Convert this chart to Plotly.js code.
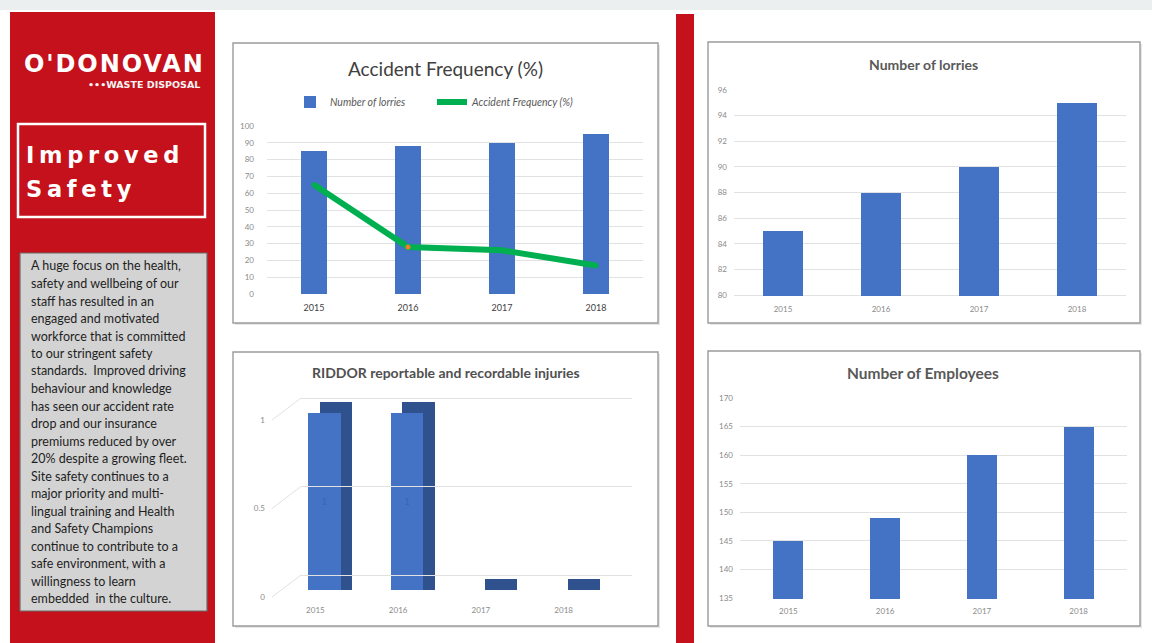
<!DOCTYPE html>
<html><head><meta charset="utf-8">
<script src="https://cdn.plot.ly/plotly-3.0.1.min.js"></script>
<style>html,body{margin:0;padding:0;background:#fff;overflow:hidden}#chart{width:1152px;height:643px}</style>
</head><body><div id="chart"></div>
<script>
// ---------- DATA ----------
const years = ['2015', '2016', '2017', '2018'];
const lorries = [85, 88, 90, 95];
const accidentFrequency = [65, 28, 26, 17];
const riddorInjuries = [1, 1, 0, 0];
const employees = [145, 149, 160, 165];

const accidentTicks = [0, 10, 20, 30, 40, 50, 60, 70, 80, 90, 100];
const lorryTicks = [80, 82, 84, 86, 88, 90, 92, 94, 96];
const riddorTicks = [0, 0.5, 1];
const employeeTicks = [135, 140, 145, 150, 155, 160, 165, 170];

const titles = {
  accident: 'Accident Frequency (%)',
  lorries: 'Number of lorries',
  riddor: 'RIDDOR reportable and recordable injuries',
  employees: 'Number of Employees'
};
const seriesNames = ['Number of lorries', 'Accident Frequency (%)'];
const logoName = "O'DONOVAN";
const logoSub = '\u2022\u2022\u2022WASTE DISPOSAL';
const headline = ['Improved', 'Safety'];
const paragraphLines = [
  'A huge focus on the health,',
  'safety and wellbeing of our',
  'staff has resulted in an',
  'engaged and motivated',
  'workforce that is committed',
  'to our stringent safety',
  'standards.  Improved driving',
  'behaviour and knowledge',
  'has seen our accident rate',
  'drop and our insurance',
  'premiums reduced by over',
  '20% despite a growing fleet.',
  'Site safety continues to a',
  'major priority and multi-',
  'lingual training and Health',
  'and Safety Champions',
  'continue to contribute to a',
  'safe environment, with a',
  'willingness to learn',
  'embedded  in the culture.'
];

// ---------- LAYOUT HELPERS ----------
const W = 1152, H = 643;
const px = p => p / W;
const py = p => 1 - p / H;
const hdom = (a, b) => [px(a), px(b)];
const vdom = (top, bottom) => [py(bottom), py(top)];
// vertical axis placement: value vmax at pixel 'top', vmin at pixel 'bottom', padded so edge gridlines show
function vPlace(top, bottom, vmin, vmax, padTop, padBottom) {
  const k = (bottom - top) / (vmax - vmin);
  return {domain: vdom(top - padTop, bottom + padBottom), range: [vmin - padBottom / k, vmax + padTop / k]};
}

const RED = '#c4111b';
const BLUE = '#4472c4';
const DARKBLUE = '#2f528f';
const GREEN = '#00b050';
const FONT = 'Lato, "Open Sans", sans-serif';
const LOGOFONT = '"DejaVu Sans", sans-serif';
const depth3d = 0.065;

const catAxis = (domain, anchor, size, color, standoff) => ({
  type: 'category', domain: domain, anchor: anchor, range: [-0.5, years.length - 0.5],
  showgrid: false, zeroline: false, showline: false, ticks: '', fixedrange: true,
  tickfont: {family: FONT, size: size, color: color}, ticklabelstandoff: standoff
});
const valAxis = (place, anchor, tickvals, extra) => Object.assign({
  domain: place.domain, anchor: anchor, range: place.range, tickvals: tickvals, ticktext: tickvals.map(String),
  showgrid: true, gridcolor: '#e2e2e2', gridwidth: 1, zeroline: false, showline: false, ticks: '',
  fixedrange: true, tickfont: {family: FONT, size: 8, color: '#8a8a8a'}, ticklabelstandoff: 8
}, extra || {});

// ---------- TRACES ----------
const traces = [
  // Chart 1: Accident Frequency
  {type: 'bar', x: years, y: lorries, name: seriesNames[0], xaxis: 'x', yaxis: 'y',
   marker: {color: BLUE}, width: 0.27, legendrank: 1},
  {type: 'scatter', mode: 'lines+markers', x: years, y: accidentFrequency, name: seriesNames[1],
   xaxis: 'x', yaxis: 'y', line: {color: GREEN, width: 6},
   marker: {size: 5, color: [GREEN, '#ed7d31', GREEN, GREEN]}, legendrank: 2},
  // Chart 2: Number of lorries
  {type: 'bar', x: years, y: lorries, name: titles.lorries, xaxis: 'x2', yaxis: 'y2',
   marker: {color: BLUE}, width: 0.41, showlegend: false},
  // Chart 3: RIDDOR (pseudo 3D: dark depth block behind the front face)
  {type: 'bar', x: years, y: riddorInjuries.map(v => v + depth3d), xaxis: 'x3', yaxis: 'y3',
   marker: {color: DARKBLUE}, width: 0.39, offset: 0.05, showlegend: false, hoverinfo: 'skip'},
  {type: 'bar', x: years, y: riddorInjuries, name: titles.riddor, xaxis: 'x3', yaxis: 'y3',
   marker: {color: BLUE}, width: 0.39, offset: -0.085, showlegend: false,
   text: riddorInjuries.map(String), textposition: 'inside', insidetextanchor: 'middle',
   textfont: {family: FONT, size: 9, color: '#3a64b4'}},
  // Chart 4: Employees
  {type: 'bar', x: years, y: employees, name: titles.employees, xaxis: 'x4', yaxis: 'y4',
   marker: {color: BLUE}, width: 0.31, showlegend: false}
];

// ---------- SHAPES ----------
const shapes = [
  {type: 'rect', xref: 'paper', yref: 'paper', x0: 0, x1: 1, y0: py(10), y1: 1, fillcolor: '#ebefef', line: {width: 0}, layer: 'below'},
  {type: 'rect', xref: 'paper', yref: 'paper', x0: px(10), x1: px(215), y0: 0, y1: py(12), fillcolor: RED, line: {width: 0}, layer: 'below'},
  {type: 'rect', xref: 'paper', yref: 'paper', x0: px(676), x1: px(694), y0: 0, y1: py(14), fillcolor: RED, line: {width: 0}, layer: 'below'},
  {type: 'rect', xref: 'paper', yref: 'paper', x0: px(18), x1: px(205), y0: py(217), y1: py(124), fillcolor: 'rgba(0,0,0,0)', line: {color: '#ffffff', width: 2.5}, layer: 'below'},
  {type: 'rect', xref: 'paper', yref: 'paper', x0: px(20), x1: px(207), y0: py(611), y1: py(253), fillcolor: '#d3d3d3', line: {color: '#6b6b6b', width: 1.2}, layer: 'below'}
];
[[233, 658, 43, 323], [708, 1140, 42, 323], [233, 658, 352, 626], [708, 1140, 351, 626]].forEach(b => {
  shapes.push({type: 'rect', xref: 'paper', yref: 'paper', x0: px(b[0] + 2), x1: px(b[1] + 2), y0: py(b[3] + 2), y1: py(b[2] + 2),
    fillcolor: '#e6e6e6', line: {width: 0}, layer: 'below'});
  shapes.push({type: 'rect', xref: 'paper', yref: 'paper', x0: px(b[0]), x1: px(b[1]), y0: py(b[3]), y1: py(b[2]),
    fillcolor: '#ffffff', line: {color: '#9b9b9b', width: 1.4}, layer: 'below'});
});
// RIDDOR 3D: back-wall axis (y5); connectors run from each tick label up to its wall gridline
const wallDrop = 22 / 177;
riddorTicks.forEach(v => {
  shapes.push({type: 'line', xref: 'paper', yref: 'y5', x0: px(272), x1: px(301), y0: v - wallDrop, y1: v,
    line: {color: '#e2e2e2', width: 1}});
});

// ---------- ANNOTATIONS ----------
const ann = [];
const addText = (text, x, y, opts) => ann.push(Object.assign({
  text: text, xref: 'paper', yref: 'paper', x: px(x), y: py(y), showarrow: false,
  xanchor: 'center', yanchor: 'middle'
}, opts));
addText(logoName, 22, 64, {xanchor: 'left', font: {family: LOGOFONT, size: 24, weight: 'bold', color: '#ffffff'}});
addText(logoSub, 202, 84, {xanchor: 'right', font: {family: LOGOFONT, size: 9.5, weight: 'bold', color: '#f3f3f3'}});
addText(headline[0], 24, 155, {xanchor: 'left', font: {family: LOGOFONT, size: 22.5, weight: 'bold', color: '#ffffff'}});
addText(headline[1], 24, 189, {xanchor: 'left', font: {family: LOGOFONT, size: 22.5, weight: 'bold', color: '#ffffff'}});
paragraphLines.forEach((line, i) => addText(line, 29, 266 + i * 17.5,
  {xanchor: 'left', font: {family: FONT, size: 12.5, color: '#1e1e1e'}}));

addText(titles.accident, 445, 68, {font: {family: FONT, size: 19, color: '#404040'}});
addText(titles.lorries, 923, 65, {font: {family: FONT, size: 14, weight: 'bold', color: '#595959'}});
addText(titles.riddor, 446, 372, {font: {family: FONT, size: 14, weight: 'bold', color: '#505050'}});
addText(titles.employees, 923, 373, {font: {family: FONT, size: 15.5, weight: 'bold', color: '#595959'}});

// ---------- LAYOUT ----------
const layout = {
  width: W, height: H, margin: {l: 0, r: 0, t: 0, b: 0, pad: 0},
  paper_bgcolor: '#ffffff', plot_bgcolor: 'rgba(0,0,0,0)',
  font: {family: FONT},
  barmode: 'overlay', bargap: 0,
  showlegend: true,
  legend: {orientation: 'h', x: px(290), y: py(102), xanchor: 'left', yanchor: 'middle',
    bgcolor: 'rgba(0,0,0,0)', font: {family: FONT, size: 10.5, color: '#595959', style: 'italic'},
    itemwidth: 30, tracegroupgap: 0, entrywidth: 97},
  // chart 1
  xaxis: catAxis(hdom(267, 643), 'y', 9, '#404040', 6),
  yaxis: valAxis(vPlace(126, 294, 0, 100, 1, 1), 'x', accidentTicks, {ticklabelstandoff: 12}),
  // chart 2
  xaxis2: catAxis(hdom(734, 1126), 'y2', 8, '#8a8a8a', 7),
  yaxis2: valAxis(vPlace(90, 295, 80, 96, 1, 1), 'x2', lorryTicks, {ticklabelstandoff: 6}),
  // chart 3 bars
  xaxis3: catAxis(hdom(274, 605), 'y3', 8, '#8a8a8a', 14),
  yaxis3: valAxis(vPlace(413, 590, 0, 1, 30, 0), 'x3', riddorTicks, {showgrid: false, showticklabels: false}),
  // chart 3 back wall gridlines + tick labels (shifted down-left to the front)
  xaxis5: {domain: hdom(301, 632), anchor: 'y5', range: [0, 1], visible: false, fixedrange: true},
  yaxis5: valAxis(vPlace(398, 575, 0, 1, 3, 26), 'x5', riddorTicks, {ticklabelstandoff: 35, ticklabelshift: 22}),
  // chart 4
  xaxis4: catAxis(hdom(740, 1127), 'y4', 8, '#8a8a8a', 6),
  yaxis4: valAxis(vPlace(398, 598, 135, 170, 1, 1), 'x4', employeeTicks, {ticklabelstandoff: 6}),
  shapes: shapes,
  annotations: ann
};

Plotly.newPlot('chart', traces, layout, {displayModeBar: false, staticPlot: true}).then(() => {
  const spacing = {};
  spacing[headline[0]] = 4.7;
  spacing[headline[1]] = 4.7;
  spacing[logoName] = 1.9;
  document.querySelectorAll('.annotation-text').forEach(t => {
    const s = t.textContent;
    if (spacing[s] === undefined) return;
    const b = t.getBBox();
    t.setAttribute('text-anchor', 'start');
    t.setAttribute('x', b.x);
    t.querySelectorAll('tspan[x]').forEach(ts => ts.setAttribute('x', b.x));
    t.style.letterSpacing = spacing[s] + 'px';
  });
});
</script></body></html>
